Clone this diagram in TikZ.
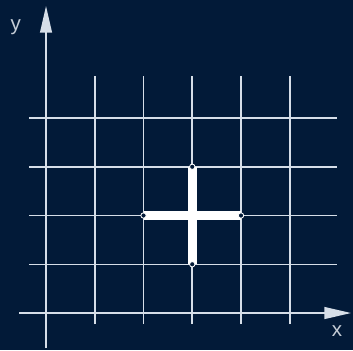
\documentclass[tikz,border=0pt]{standalone}
\usepackage{fontspec}
\setmainfont{Liberation Sans}
\usetikzlibrary{arrows.meta}
\definecolor{navy}{RGB}{2,26,56}
\definecolor{gridline}{RGB}{214,222,232}
\definecolor{labelgray}{RGB}{196,204,214}

\begin{document}
\begin{tikzpicture}[
    gridln/.style={draw=gridline, line width=0.9pt},
    axis/.style={draw=gridline, line width=1.2pt, -{Triangle[length=5.5mm, width=2.4mm]}},
    bar/.style={draw=white, line width=5pt},
    endpt/.style={circle, draw=white, fill=navy, line width=0.5pt,
                  inner sep=0pt, minimum size=1.1mm},
    lbl/.style={text=labelgray, font=\fontsize{12}{14}\selectfont, inner sep=0pt}]
  \fill[navy] (-0.944,-0.759) rectangle (6.297,6.421);
  \useasboundingbox (-0.944,-0.759) rectangle (6.297,6.421);
  \foreach \x in {1,...,5}
    \draw[gridln] (\x,-0.23) -- (\x,4.86);
  \foreach \y in {1,...,4}
    \draw[gridln] (-0.35,\y) -- (5.97,\y);
  \coordinate (xstart) at (-0.55,0);
  \coordinate (xend) at (6.26,0);
  \coordinate (ystart) at (0,-0.72);
  \coordinate (yend) at (0,6.3);
  \draw[axis] (xstart) -- (xend);
  \draw[axis] (ystart) -- (yend);
  \node[lbl] (xlabel) at (5.97,-0.36) {x};
  \node[lbl] (ylabel) at (-0.62,5.86) {y};
  \coordinate (left) at (2,2);
  \coordinate (right) at (4,2);
  \coordinate (bottom) at (3,1);
  \coordinate (top) at (3,3);
  \draw[bar] (left) -- (right);
  \draw[bar] (bottom) -- (top);
  \node[endpt] (leftend) at (left) {};
  \node[endpt] (rightend) at (right) {};
  \node[endpt] (bottomend) at (bottom) {};
  \node[endpt] (topend) at (top) {};
\end{tikzpicture}
\end{document}
